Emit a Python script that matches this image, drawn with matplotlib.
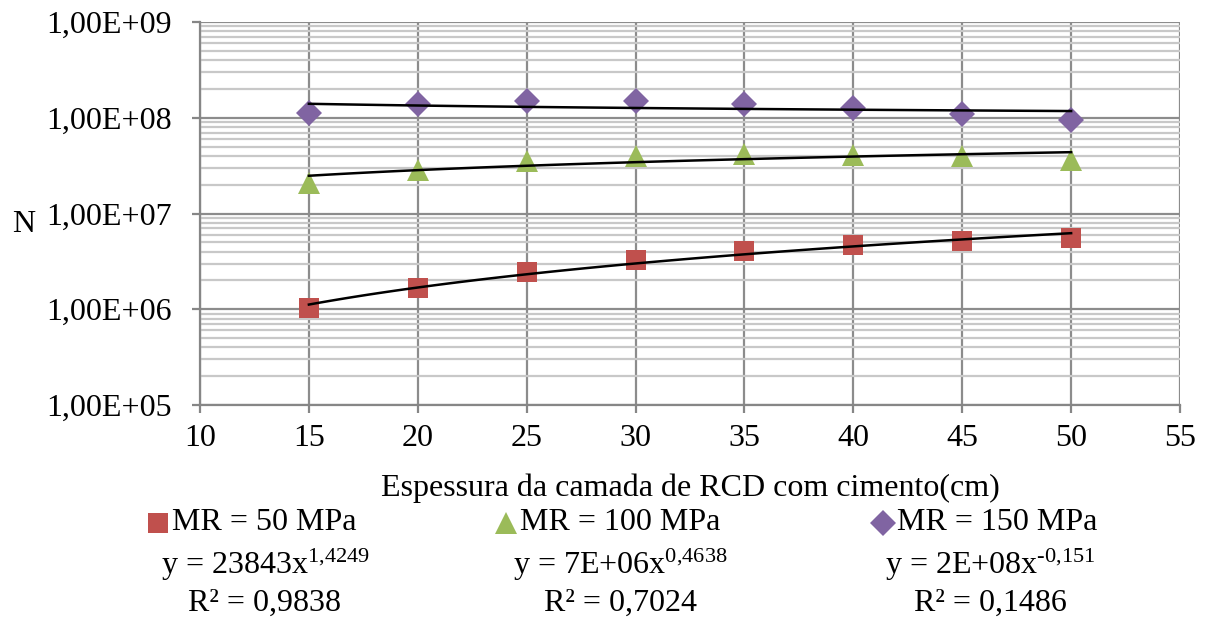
import numpy as np
import matplotlib
matplotlib.use("Agg")
import matplotlib.pyplot as plt
from matplotlib.lines import Line2D

plt.rcParams['font.family'] = ['Liberation Serif', 'DejaVu Serif']
plt.rcParams['mathtext.fontset'] = 'custom'
plt.rcParams['mathtext.rm'] = 'Liberation Serif'
plt.rcParams['mathtext.it'] = 'Liberation Serif:italic'

espessura = [15, 20, 25, 30, 35, 40, 45, 50]
mr50 = [1.03e6, 1.66e6, 2.45e6, 3.28e6, 4.05e6, 4.69e6, 5.2e6, 5.5e6]
mr100 = [2.09e7, 2.88e7, 3.5e7, 3.98e7, 4.15e7, 4.08e7, 3.95e7, 3.59e7]
mr150 = [1.12e8, 1.39e8, 1.51e8, 1.51e8, 1.39e8, 1.26e8, 1.10e8, 9.5e7]
series_labels = ["MR = 50 MPa", "MR = 100 MPa", "MR = 150 MPa"]
equations = [r"y = 23843x$^{\text{1,4249}}$",
             r"y = 7E+06x$^{\text{0,4638}}$",
             r"y = 2E+08x$^{\text{-0,151}}$"]
r2_labels = ["R² = 0,9838", "R² = 0,7024", "R² = 0,1486"]
yticks = [1e5, 1e6, 1e7, 1e8, 1e9]
ytick_labels = ["1,00E+05", "1,00E+06", "1,00E+07", "1,00E+08", "1,00E+09"]
xticks = [10, 15, 20, 25, 30, 35, 40, 45, 50, 55]

colors = ['#C0504D', '#9BBB59', '#8064A2']
markers = ['s', '^', 'D']
msizes = [14.5, 16, 13.5]

fig = plt.figure(figsize=(12.07, 6.17), dpi=100)
ax = fig.add_axes([200/1207, 1-405/617, 980/1207, 383/617])
ax.set_yscale('log')
ax.set_ylim(1e5, 1e9)
ax.set_xlim(10, 55)

x = np.array(espessura, dtype=float)
xx = np.linspace(15, 50, 100)
for ys, c, m, ms in zip([mr50, mr100, mr150], colors, markers, msizes):
    ax.plot(x, ys, linestyle='none', marker=m, color=c, markersize=ms,
            markeredgewidth=0, zorder=3)
    b, a = np.polyfit(np.log(x), np.log(ys), 1)
    ax.plot(xx, np.exp(a) * xx**b, color='black', lw=1.8, zorder=4)

ax.set_yticks(yticks)
ax.set_yticklabels(ytick_labels)
ax.set_xticks(xticks)
ax.yaxis.set_minor_locator(matplotlib.ticker.LogLocator(base=10, subs=np.arange(2, 10)))
ax.yaxis.set_minor_formatter(matplotlib.ticker.NullFormatter())
ax.grid(True, which='major', color='#8c8c8c', lw=1.6)
ax.grid(True, which='minor', axis='y', color='#c8c8c8', lw=1.6)
ax.set_axisbelow(True)
for s in ['top', 'right']:
    ax.spines[s].set_visible(False)
for s in ['left', 'bottom']:
    ax.spines[s].set_color('#868686')
    ax.spines[s].set_linewidth(1.6)
ax.tick_params(axis='both', which='major', labelsize=23, color='#868686',
               length=6, width=1.6, direction='out')
ax.tick_params(axis='y', which='minor', length=0)
ax.tick_params(axis='x', pad=8)
ax.tick_params(axis='y', pad=14)

fig.text(12/1207, 1-225/617, "N", fontsize=23, va='center', ha='left')
fig.text(690/1207, 1-488/617, "Espessura da camada de RCD com cimento(cm)",
         fontsize=23, va='center', ha='center')

centers = [265, 620, 990]
mpos = [158, 506, 883]
for i in range(3):
    fig.lines.append(Line2D([mpos[i]/1207], [1-523/617], transform=fig.transFigure,
                            marker=markers[i], color=colors[i], markersize=msizes[i],
                            markeredgewidth=0, linestyle='none'))
    fig.text((mpos[i]+14)/1207, 1-522/617, series_labels[i], fontsize=23,
             va='center', ha='left')
    fig.text(centers[i]/1207, 1-565/617, equations[i], fontsize=23,
             va='center', ha='center')
    fig.text(centers[i]/1207, 1-603/617, r2_labels[i], fontsize=23,
             va='center', ha='center')

fig.savefig("out.png", dpi=100)
